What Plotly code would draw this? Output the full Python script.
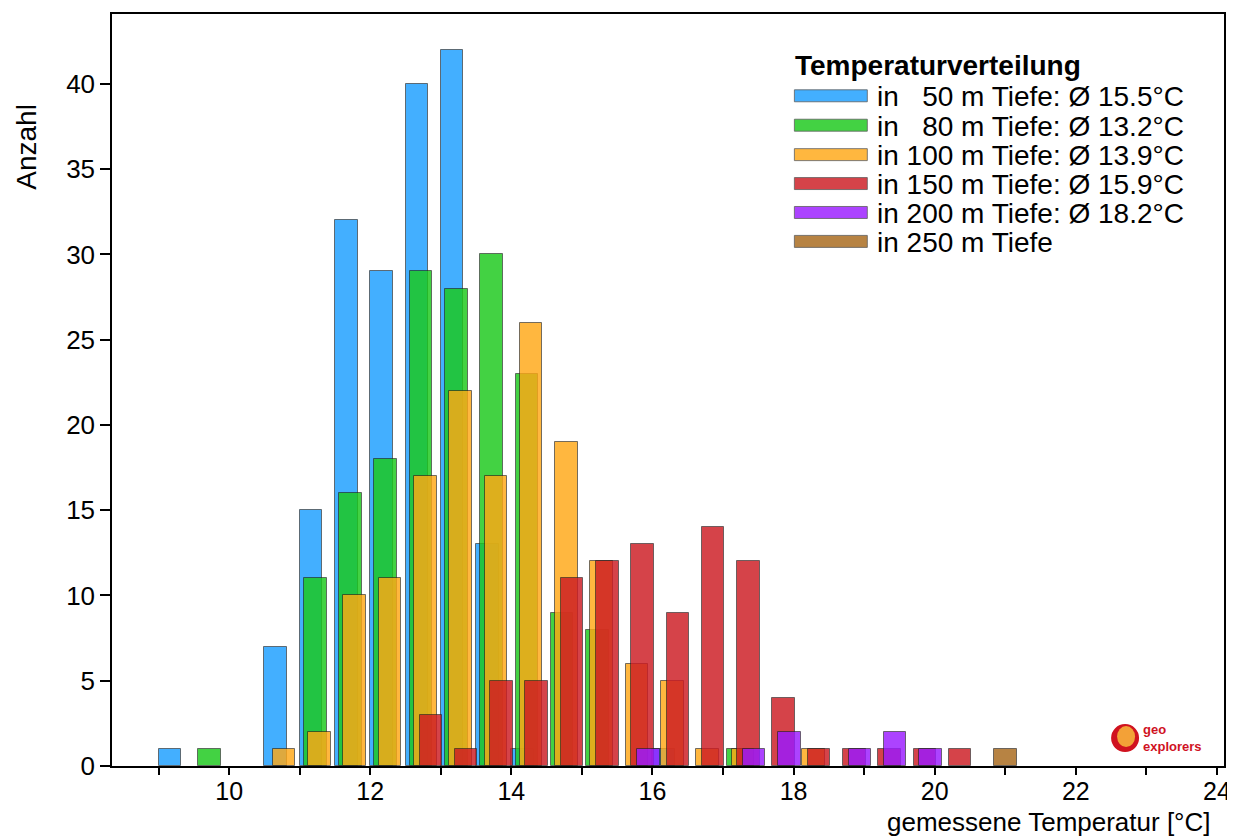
import plotly.graph_objects as go

# ---------------- data ----------------
bin_starts = [9.0, 9.5, 10.0, 10.5, 11.0, 11.5, 12.0, 12.5, 13.0, 13.5, 14.0, 14.5,
              15.0, 15.5, 16.0, 16.5, 17.0, 17.5, 18.0, 18.5, 19.0, 19.5, 20.0, 20.5, 21.0]

count_50m = [1, 0, 0, 7, 15, 32, 29, 40, 42, 13, 1, 0, 0, 0, 1, 0, 0, 0, 0, 0, 0, 0, 0, 0, 0]
count_80m = [0, 1, 0, 0, 11, 16, 18, 29, 28, 30, 23, 9, 8, 0, 0, 0, 1, 0, 0, 0, 0, 0, 0, 0, 0]
count_100m = [0, 0, 0, 1, 2, 10, 11, 17, 22, 17, 26, 19, 12, 6, 5, 1, 1, 0, 1, 0, 0, 0, 0, 0, 0]
count_150m = [0, 0, 0, 0, 0, 0, 0, 3, 1, 5, 5, 11, 12, 13, 9, 14, 12, 4, 1, 1, 1, 1, 1, 0, 0]
count_200m = [0, 0, 0, 0, 0, 0, 0, 0, 0, 0, 0, 0, 0, 1, 0, 0, 1, 2, 0, 1, 2, 1, 0, 0, 0]
count_250m = [0, 0, 0, 0, 0, 0, 0, 0, 0, 0, 0, 0, 0, 0, 0, 0, 0, 0, 0, 0, 0, 0, 0, 1, 0]

series_labels = [
    "in\u00a0\u00a0\u00a050 m Tiefe: Ø 15.5°C",
    "in\u00a0\u00a0\u00a080 m Tiefe: Ø 13.2°C",
    "in 100 m Tiefe: Ø 13.9°C",
    "in 150 m Tiefe: Ø 15.9°C",
    "in 200 m Tiefe: Ø 18.2°C",
    "in 250 m Tiefe",
]
series_counts = [count_50m, count_80m, count_100m, count_150m, count_200m, count_250m]
series_colors = ["#1A9EFF", "#1BC91B", "#FFA815", "#CD1A22", "#9A1AFF", "#A8691A"]
series_offsets = [0.0, 0.06, 0.12, 0.20, 0.28, 0.34]

legend_title = "Temperaturverteilung"
x_title = "gemessene Temperatur [°C]"
y_title = "Anzahl"

# ---------------- layout helpers ----------------
PAGE_OFF = 8                      # default body margin of the html page
FIG_W, FIG_H = 1235 - PAGE_OFF, 837 - PAGE_OFF
# plot area in page pixels
P_L, P_R, P_T, P_B = 112, 1225, 12, 766
M_L = P_L - PAGE_OFF
M_T = P_T - PAGE_OFF
M_R = FIG_W - (P_R - PAGE_OFF)
M_B = FIG_H - (P_B - PAGE_OFF)
PW = P_R - P_L
PH = P_B - P_T
FONT = "Liberation Sans, Arial, sans-serif"


def px_x(px):
    return (px - P_L) / PW


def px_y(py):
    return (P_B - py) / PH


fig = go.Figure()

BAR_W = 0.32
for lab, cnt, col, off in zip(series_labels, series_counts, series_colors, series_offsets):
    xs = [b for b, c in zip(bin_starts, cnt) if c > 0]
    ys = [c for c in cnt if c > 0]
    fig.add_trace(go.Bar(
        x=xs, y=ys, name=lab,
        width=BAR_W, offset=off,
        marker=dict(color=col, opacity=0.82,
                    line=dict(color="rgba(30,30,30,0.75)", width=1)),
        showlegend=False,
    ))

shapes = []
annotations = []

# custom legend (wide swatches)
annotations.append(dict(
    xref="paper", yref="paper", x=px_x(794), y=px_y(64), xanchor="left", yanchor="middle",
    text="<b>" + legend_title + "</b>", showarrow=False,
    font=dict(family=FONT, size=28, color="black")))
row_y = [94, 123.5, 153, 182, 211, 240]
for lab, col, ry in zip(series_labels, series_colors, row_y):
    shapes.append(dict(
        type="rect", xref="paper", yref="paper",
        x0=px_x(795), x1=px_x(868), y0=px_y(ry - 6), y1=px_y(ry + 6),
        fillcolor=col, opacity=0.82, line=dict(color="rgba(60,60,60,0.8)", width=1)))
    annotations.append(dict(
        xref="paper", yref="paper", x=px_x(876), y=px_y(ry + 1), xanchor="left", yanchor="middle",
        text=lab, showarrow=False,
        font=dict(family=FONT, size=28, color="black")))

# axis titles
annotations.append(dict(
    xref="paper", yref="paper", x=px_x(27), y=px_y(145), xanchor="center", yanchor="middle",
    text=y_title, textangle=-90, showarrow=False,
    font=dict(family=FONT, size=28, color="black")))
annotations.append(dict(
    xref="paper", yref="paper", x=px_x(1214), y=px_y(822), xanchor="right", yanchor="middle",
    text=x_title, showarrow=False,
    font=dict(family=FONT, size=26, color="black")))

# logo
shapes.append(dict(type="circle", xref="paper", yref="paper",
                   x0=px_x(1112), x1=px_x(1140), y0=px_y(752), y1=px_y(724),
                   fillcolor="#D0121F", line=dict(width=0)))
shapes.append(dict(type="circle", xref="paper", yref="paper",
                   x0=px_x(1118), x1=px_x(1136), y0=px_y(747), y1=px_y(726),
                   fillcolor="#F6B13A", line=dict(width=0), opacity=0.9))
annotations.append(dict(
    xref="paper", yref="paper", x=px_x(1142), y=px_y(738), xanchor="left", yanchor="middle",
    text="<b>geo<br>explorers</b>", align="left", showarrow=False,
    font=dict(family=FONT, size=13, color="#D0121F")))

fig.update_layout(
    width=FIG_W, height=FIG_H,
    margin=dict(l=M_L, r=M_R, t=M_T, b=M_B),
    paper_bgcolor="white", plot_bgcolor="white",
    barmode="overlay", bargap=0,
    font=dict(family=FONT, size=25, color="black"),
    shapes=shapes, annotations=annotations,
    xaxis=dict(
        range=[8.34, 24.10], tickmode="linear", tick0=0, dtick=2,
        ticks="outside", ticklen=7, tickwidth=1.5, tickcolor="black",
        ticklabelstandoff=-5,
        minor=dict(dtick=1, tick0=0, ticks="outside", ticklen=7, tickwidth=1.5, tickcolor="black"),
        showline=True, linecolor="black", linewidth=1.5, mirror=True,
        showgrid=False, zeroline=False,
        tickfont=dict(family=FONT, size=25, color="black"),
    ),
    yaxis=dict(
        range=[0, 44.1], tickmode="linear", tick0=0, dtick=5,
        ticks="outside", ticklen=10, tickwidth=1.5, tickcolor="black",
        showline=True, linecolor="black", linewidth=1.5, mirror=True,
        showgrid=False, zeroline=False,
        tickfont=dict(family=FONT, size=26, color="black"),
    ),
)

fig.write_html("out.html")
